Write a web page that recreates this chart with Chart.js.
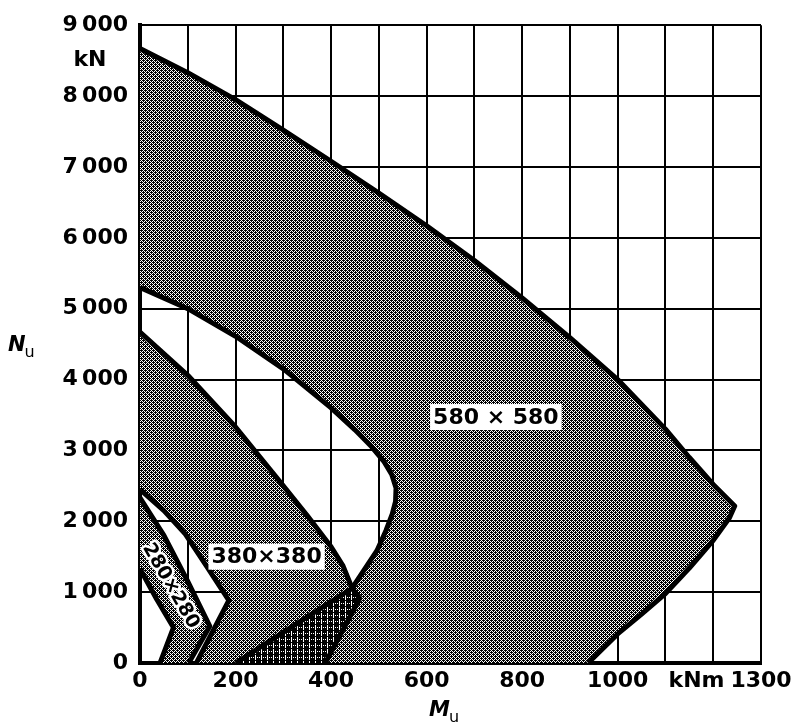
<!DOCTYPE html>
<html>
<head>
<meta charset="utf-8">
<title>Nu – Mu interaction bands</title>
<script src="https://cdn.jsdelivr.net/npm/chart.js@4.4.1/dist/chart.umd.min.js"></script>
<style>
  html, body { margin: 0; padding: 0; background: #fff; }
  #wrap { width: 806px; height: 723px; }
</style>
</head>
<body>
<div id="wrap"><canvas id="chart" width="806" height="723"></canvas></div>
<script>
// ── Curves: [Mu (kNm), Nu (kN)] ─────────────────────────────────────────────
const outer580 = [[0,8670],[100,8330],[200,7950],[300,7520],[400,7080],[500,6630],[600,6170],
                  [700,5680],[800,5150],[900,4590],[1000,4000],[1100,3300],[1150,2900],[1200,2520],
                  [1245,2216],[1234,2050],[1200,1730],[1150,1340],[1100,980],[1050,690],[1000,410],[938,0]];
const inner580 = [[0,5300],[100,5000],[200,4610],[300,4150],[400,3600],[450,3290],[485,3050],
                  [510,2850],[527,2660],[536,2470],[535,2280],[528,2100],[515,1870],[496,1585],
                  [444,1055],[320,520],[200,0]];
const outer380 = [[0,4670],[100,4060],[200,3330],[300,2500],[350,2080],[400,1640],[425,1370],
                  [444,1055],[460,912],[388,0]];
const inner380 = [[0,2450],[50,2150],[95,1820],[140,1360],[186,884],[118,0]];
const outer280 = [[0,2330],[50,1800],[100,1150],[146,520],[102,0]];
const inner280 = [[0,1330],[35,900],[70,500],[42,0]];

const xLabels = [0, 200, 400, 600, 800, 1000, 1300];
const yLabels = [0, 1000, 2000, 3000, 4000, 5000, 6000, 7000, 8000, 9000];
const sizes   = ['580 × 580', '380×380', '280×280'];
const sizeAt  = [[745, 3471], [265, 1500], [66, 1094]];   // label anchors, data units

const FONT = "'DejaVu Sans', sans-serif";
const pts  = arr => arr.map(([x, y]) => ({ x, y }));
const band = (outer, inner) => pts([...outer, ...inner.slice().reverse(), outer[0]]);
// zone where the 380 and 580 bands overlap (below their crossing point)
const overlap = pts([...outer380.slice(7), ...inner580.slice(-2).reverse(), outer380[7]]);

// ── halftone screens ──────────────────────────────────────────────────────────
function screen(size, dark) {
    const c = document.createElement('canvas');
    c.width = c.height = size;
    const g = c.getContext('2d');
    g.fillStyle = '#fff'; g.fillRect(0, 0, size, size);
    g.fillStyle = '#000';
    for (let y = 0; y < size; y++)
        for (let x = 0; x < size; x++)
            if (dark(x, y)) g.fillRect(x, y, 1, 1);
    return g.createPattern(c, 'repeat');
}
const ctx  = document.getElementById('chart').getContext('2d');
const GREY = screen(4, (x, y) => (x + y) % 2 === 0 || (x === 1 && y === 2) || (x === 3 && y === 0));
const DARK = screen(6, (x, y) => !((x === 3 && y !== 0) || (y === 3 && x !== 0 && x % 2)));

const fillSet = (data, bg, order) => ({
    data, showLine: true, fill: 'shape', backgroundColor: bg,
    borderWidth: 0, pointRadius: 0, tension: 0, order,
});
const lineSet = data => ({
    data: pts(data), showLine: true, fill: false, borderColor: '#000',
    borderWidth: 5, pointRadius: 0, tension: 0, borderJoinStyle: 'round', order: 1,
});

// italic letter followed by a lowered "u"
function symbol(c, letter, x0, base) {
    c.font = `italic bold 21px ${FONT}`;
    c.fillText(letter, x0, base);
    const w = c.measureText(letter).width;
    c.font = `16px ${FONT}`;
    c.fillText('u', x0 + w - 1, base + 6);
}

// ── texts drawn on top: unit labels, axis names, section sizes ───────────────
const annotations = {
    id: 'annotations',
    afterDraw(chart) {
        const { ctx: c, scales: { x, y } } = chart;
        c.save();
        c.fillStyle = '#000';
        c.textBaseline = 'middle';
        c.textAlign = 'center';
        c.font = `bold 22px ${FONT}`;
        c.fillText('kN', 90, y.getPixelForValue(8500));
        c.fillText('kNm', x.getPixelForValue(1165), 681);

        c.textAlign = 'left';
        c.textBaseline = 'alphabetic';
        symbol(c, 'N', 8, 351);
        symbol(c, 'M', 429, 716);

        // section sizes
        c.textBaseline = 'middle';
        c.textAlign = 'center';
        sizes.forEach((s, i) => {
            const px = x.getPixelForValue(sizeAt[i][0]);
            const py = y.getPixelForValue(sizeAt[i][1]);
            c.save();
            c.translate(px, py);
            if (i === 2) {
                c.rotate(Math.PI / 3);
                c.font = `bold 19px ${FONT}`;
                c.lineWidth = 5;
                c.lineJoin = 'round';
                c.strokeStyle = '#fff';
                c.strokeText(s, 0, 1);
            } else {
                c.font = `bold 22px ${FONT}`;
                const w = c.measureText(s).width;
                c.fillStyle = '#fff';
                c.fillRect(-w / 2 - 3, -13, w + 6, 26);
                c.fillStyle = '#000';
            }
            c.fillText(s, 0, 1);
            c.restore();
        });
        c.restore();
    }
};

new Chart(ctx, {
    type: 'scatter',
    data: {
        datasets: [
            fillSet(band(outer580, inner580), GREY, 4),
            fillSet(band(outer380, inner380), GREY, 4),
            fillSet(band(outer280, inner280), GREY, 4),
            fillSet(overlap, DARK, 3),
            lineSet(outer580), lineSet(inner580),
            lineSet(outer380), lineSet(inner380),
            lineSet(outer280), lineSet(inner280),
        ]
    },
    options: {
        responsive: false, animation: false,
        layout: { padding: { left: 0, right: 45, top: 20, bottom: 0 } },
        plugins: { legend: { display: false }, tooltip: { enabled: false } },
        scales: {
            x: {
                type: 'linear', min: 0, max: 1300, z: 1,
                afterFit: s => { s.height = 60; },
                border: { color: '#000', width: 4 },
                grid: { color: '#000', lineWidth: 2, drawTicks: false },
                ticks: {
                    stepSize: 100, autoSkip: false, maxRotation: 0, padding: 5,
                    color: '#000', font: { family: FONT, size: 22, weight: 'bold' },
                    callback: v => xLabels.includes(v) ? String(v) : '',
                },
            },
            y: {
                type: 'linear', min: 0, max: 9000, z: 1,
                afterFit: s => { s.width = 140; },
                border: { color: '#000', width: 4 },
                grid: { color: '#000', lineWidth: 2, drawTicks: false },
                ticks: {
                    stepSize: 1000, padding: 12,
                    color: '#000', font: { family: FONT, size: 22, weight: 'bold' },
                    callback: v => yLabels.includes(v)
                        ? (v >= 1000 ? `${Math.floor(v / 1000)}\u2009000` : String(v)) : '',
                },
            },
        },
    },
    plugins: [annotations],
});
</script>
</body>
</html>
